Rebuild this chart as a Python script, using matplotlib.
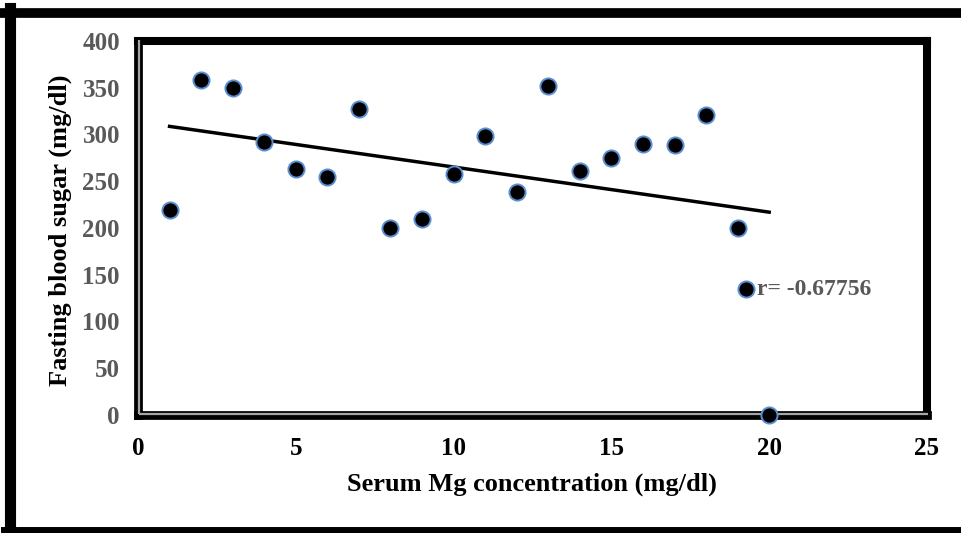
"""Serum Mg vs fasting blood sugar scatter"""

import numpy as np
import matplotlib.pyplot as plt
import matplotlib.transforms as mtransforms
from matplotlib.lines import Line2D

plt.rcParams["font.family"] = ["Liberation Serif", "DejaVu Serif"]
plt.rcParams["font.weight"] = "bold"

# data
serum_mg = [1, 2, 3, 4, 5, 6, 7, 8, 9, 10, 11, 12, 13, 14, 15, 16, 17, 18, 19, 20]
fasting_sugar = [219, 358, 350, 292, 263, 255, 327, 200, 210, 258,
                 298, 238, 352, 261, 275, 290, 289, 321, 200, 0]
x_ticks = [0, 5, 10, 15, 20, 25]
y_ticks = [0, 50, 100, 150, 200, 250, 300, 350, 400]
r_label = "r= -0.67756"

GRAY = "#595959"
EDGE = "#5b8fd3"

fig = plt.figure(figsize=(9.61, 5.33), dpi=100)
ax = fig.add_axes([0.1436, 0.2214, 0.821, 0.7017])

# scatter + linear trend line
ax.scatter(serum_mg, fasting_sugar, s=135, color="black", edgecolors=EDGE,
           linewidths=1.4, zorder=5, clip_on=False, label=r_label)
slope, intercept = np.polyfit(serum_mg, fasting_sugar, 1)
xs = np.array([min(serum_mg), max(serum_mg)])
ax.plot(xs, slope * xs + intercept, color="black", linewidth=2.5, zorder=4)

ax.set_xlim(0, 25)
ax.set_ylim(0, 400)
ax.set_xticks(x_ticks)
ax.set_yticks(y_ticks)
ax.tick_params(axis="both", length=0, labelsize=18)
ax.tick_params(axis="x", pad=16, labelcolor="black")
ax.tick_params(axis="y", pad=13, labelcolor=GRAY)
for lab in ax.get_xticklabels() + ax.get_yticklabels():
    lab.set_fontweight("bold")

ax.set_xlabel("Serum Mg concentration (mg/dl)", fontsize=19, fontweight="bold")
ax.set_ylabel("Fasting blood sugar (mg/dl)", fontsize=19, fontweight="bold")
ax.xaxis.set_label_coords(0.499, -0.155)
ax.yaxis.set_label_coords(-0.084, 0.495)

# frame: heavy top/right, double line left/bottom
for side in ["top", "right"]:
    ax.spines[side].set_linewidth(5.8)
    ax.spines[side].set_color("black")
for side in ["left", "bottom"]:
    ax.spines[side].set_linewidth(6.3)
    ax.spines[side].set_color("black")
shift_in = mtransforms.offset_copy(ax.transAxes, fig=fig, x=0.6, y=0.6, units="points")
ax.plot([0, 0], [0, 1], transform=shift_in, color="#a6a6a6", lw=1.6,
        clip_on=False, zorder=3, solid_capstyle="butt")
ax.plot([0, 1], [0, 0], transform=shift_in, color="#a6a6a6", lw=1.6,
        clip_on=False, zorder=3, solid_capstyle="butt")

leg = ax.legend(loc="center left", bbox_to_anchor=(0.760, 0.337), frameon=False,
                scatterpoints=1, handlelength=0.7, handletextpad=0.1,
                borderpad=0, borderaxespad=0,
                prop={"size": 17, "weight": "bold"})
for t in leg.get_texts():
    t.set_color(GRAY)

# outer border of the picture
fig.add_artist(Line2D([9.5 / 961, 9.5 / 961], [0, 1 - 8 / 533], transform=fig.transFigure,
                      color="black", lw=8))
fig.add_artist(Line2D([4 / 961, 1], [1 - 12.5 / 533, 1 - 12.5 / 533], transform=fig.transFigure,
                      color="black", lw=7))
fig.add_artist(Line2D([4 / 961, 1], [3 / 533, 3 / 533], transform=fig.transFigure,
                      color="black", lw=5))

plt.savefig("out.png", dpi=100)
plt.close()
